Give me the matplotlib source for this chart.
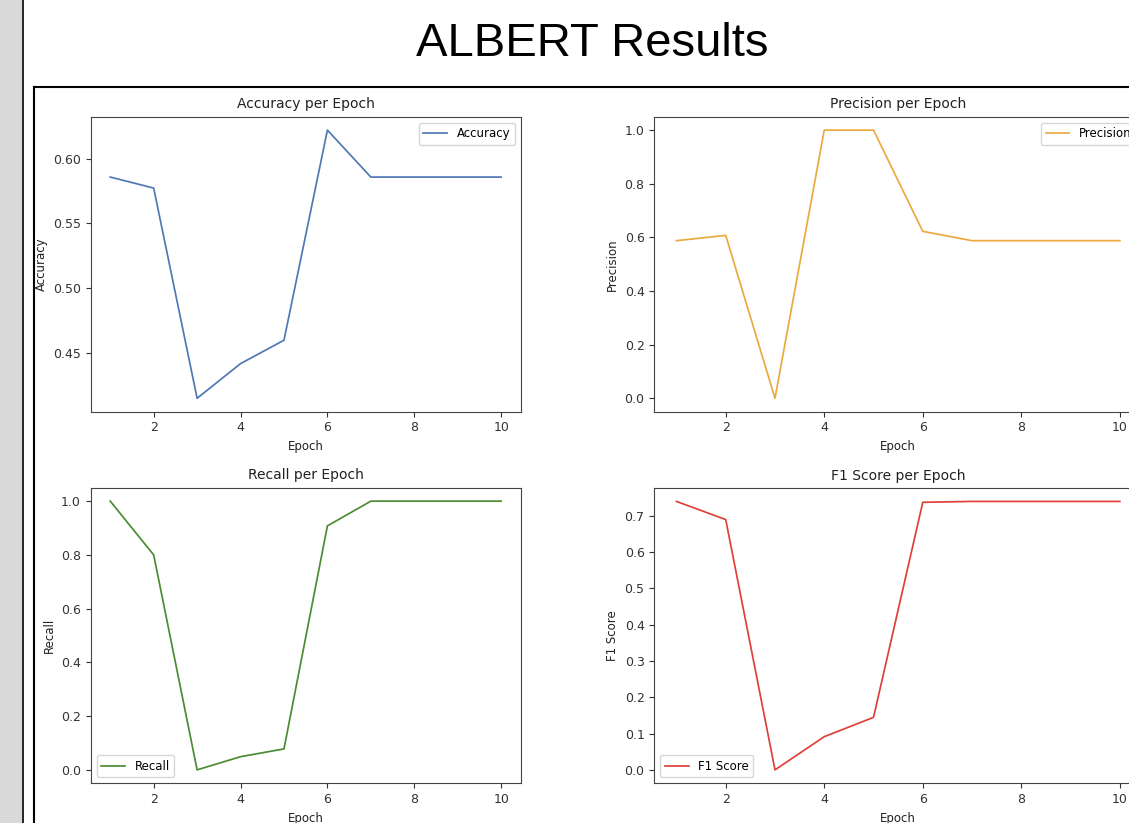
import matplotlib.pyplot as plt
from matplotlib.patches import Rectangle
from matplotlib.lines import Line2D

epochs = [1, 2, 3, 4, 5, 6, 7, 8, 9, 10]
accuracy = [0.5857, 0.5772, 0.4147, 0.4415, 0.4596, 0.622, 0.5857, 0.5857, 0.5857, 0.5857]
precision = [0.5877, 0.6075, 0.0, 1.0, 1.0, 0.6225, 0.5877, 0.5877, 0.5877, 0.5877]
recall = [1.0, 0.8, 0.0, 0.049, 0.078, 0.908, 1.0, 1.0, 1.0, 1.0]
f1 = [0.740, 0.690, 0.0, 0.0915, 0.1448, 0.7376, 0.740, 0.740, 0.740, 0.740]

W, H = 1129, 823
fig = plt.figure(figsize=(W / 100, H / 100), dpi=100)
fig.patch.set_facecolor('white')


def px_rect(left, top, right, bottom):
    return [left / W, (H - bottom) / H, (right - left) / W, (bottom - top) / H]


# slide decoration: gray strip, divider line, image frame
fig.patches.append(Rectangle((0, 0), 21.5 / W, 1, transform=fig.transFigure,
                             facecolor='#d9d9d9', edgecolor='none'))
fig.lines.append(Line2D([22.5 / W, 22.5 / W], [0, 1], transform=fig.transFigure,
                        color='black', lw=1.2))
fig.lines.append(Line2D([34 / W, 34 / W], [0, (H - 87) / H], transform=fig.transFigure,
                        color='black', lw=1.5))
fig.lines.append(Line2D([34 / W, 1], [(H - 87) / H, (H - 87) / H], transform=fig.transFigure,
                        color='black', lw=1.5))

fig.text(592.5 / W, (H - 43.5) / H, 'ALBERT Results', ha='center', va='center',
         fontsize=34, family='Liberation Sans', color='black')

panels = [
    (px_rect(90.7, 116.7, 520.7, 411.7), accuracy, 'Accuracy', 'Accuracy per Epoch', '#5079b3', 'upper right'),
    (px_rect(654.3, 116.7, 1142, 411.7), precision, 'Precision', 'Precision per Epoch', '#eaaa40', 'upper right'),
    (px_rect(90.7, 487.7, 520.7, 783.3), recall, 'Recall', 'Recall per Epoch', '#4b8c35', 'lower left'),
    (px_rect(654.3, 488.0, 1142, 783.3), f1, 'F1 Score', 'F1 Score per Epoch', '#e0403a', 'lower left'),
]

for rect, vals, name, title, color, loc in panels:
    ax = fig.add_axes(rect)
    ax.plot(epochs, vals, color=color, lw=1.25, label=name)
    ax.set_title(title, fontsize=10, color='#222222')
    ax.set_xlabel('Epoch', fontsize=8.5, color='#222222')
    ax.set_ylabel(name, fontsize=8.5, color='#222222')
    ax.tick_params(labelsize=9, colors='#333333')
    for s in ax.spines.values():
        s.set_color('#444444')
    ax.legend(loc=loc, fontsize=8.5)

fig.savefig('out.png', dpi=100)
